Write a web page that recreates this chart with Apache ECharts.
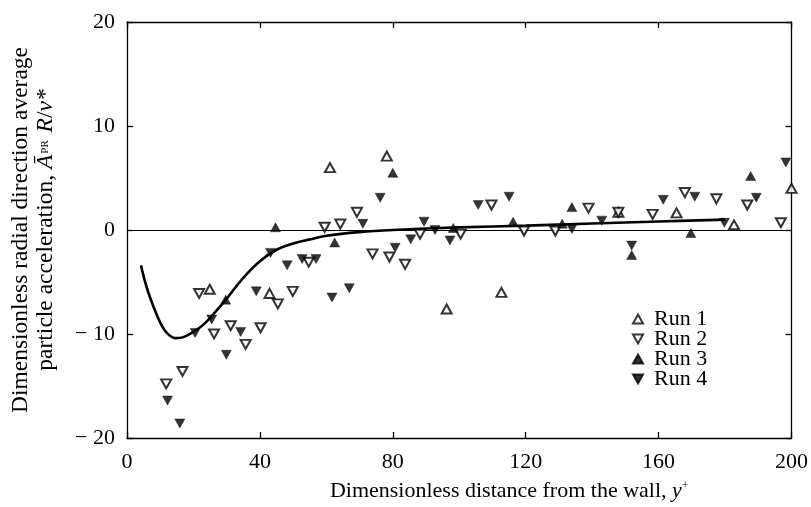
<!DOCTYPE html>
<html>
<head>
<meta charset="utf-8">
<script src="https://cdn.jsdelivr.net/npm/echarts@6/dist/echarts.min.js"></script>
<style>
html,body{margin:0;padding:0;background:#fff;}
#c{width:811px;height:507px;}
</style>
</head>
<body>
<div id="c"></div>
<script>
// ---- data ----
var xTicks = [0, 40, 80, 120, 160, 200];
var yTicks = [-20, -10, 0, 10, 20];
var runNames = ['Run 1', 'Run 2', 'Run 3', 'Run 4'];

var run1 = [[24.9,-5.7],[42.9,-6.1],[61.1,6.0],[78.2,7.1],[96.2,-7.6],[112.7,-6.0],[147.9,1.7],[165.4,1.65],[182.7,0.5],[200,4.0]];
var run2 = [[11.8,-14.8],[16.7,-13.6],[21.7,-6.1],[26.2,-10.0],[31.2,-9.2],[35.7,-11.0],[40.2,-9.4],[45.4,-7.1],[49.9,-5.9],[54.7,-3.1],[59.5,0.26],[64.2,0.57],[69.2,1.7],[73.9,-2.3],[79.0,-2.6],[83.7,-3.3],[88.2,-0.4],[100.4,-0.4],[109.7,2.4],[119.5,-0.1],[128.9,-0.1],[138.9,2.1],[147.9,1.7],[158.2,1.5],[167.9,3.6],[177.4,3.0],[186.7,2.4],[196.8,0.7]];
var run3 = [[29.7,-6.7],[44.7,0.26],[62.5,-1.2],[80.0,5.5],[98.2,0.2],[116.2,0.8],[131.0,0.6],[133.9,2.2],[151.9,-2.4],[169.7,-0.3],[187.7,5.2]];
var run4 = [[12.2,-16.4],[15.9,-18.6],[20.5,-9.9],[25.5,-8.6],[29.9,-12.0],[34.2,-9.8],[38.9,-5.9],[43.2,-2.2],[48.2,-3.4],[52.7,-2.8],[56.9,-2.8],[61.7,-6.5],[66.9,-5.6],[71.0,0.6],[76.2,3.1],[80.7,-1.7],[85.4,-0.9],[89.4,0.8],[92.7,0.0],[97.2,-1.0],[105.7,2.4],[115.0,3.2],[133.9,0.1],[142.9,0.9],[151.9,-1.5],[161.4,2.9],[170.9,3.2],[179.8,0.7],[189.4,3.1],[198.3,6.5]];
var curve = [[4.2,-3.4],[6,-5.6],[8,-7.4],[10,-8.9],[12,-9.9],[14.7,-10.4],[17,-10.3],[20,-9.8],[23,-9.1],[26,-8.1],[30,-6.6],[35,-4.6],[40,-3.0],[45,-1.9],[50,-1.3],[55,-0.9],[60,-0.55],[70,-0.2],[80,0.0],[100,0.25],[120,0.42],[140,0.62],[160,0.82],[180,1.0]];

var FONT = 'Liberation Serif';
var FS = 22;
var UP = 'path://M5,0 L10,9 L0,9 Z';
var DOWN = 'path://M0,0 L10,0 L5,9 Z';
var chart = echarts.init(document.getElementById('c'), null, {renderer:'canvas'});

function axisCommon(){
  return {
    axisLine:{show:true, onZero:false, lineStyle:{color:'#000', width:1.3}},
    axisTick:{show:true, inside:true, length:6, lineStyle:{color:'#000', width:1.3}},
    splitLine:{show:false}
  };
}

var xBottom = Object.assign(axisCommon(), {
  type:'value', position:'bottom', min:xTicks[0], max:xTicks[xTicks.length-1], interval:xTicks[1]-xTicks[0],
  axisLabel:{color:'#000', fontFamily:FONT, fontSize:FS, margin:13},
  name:'Dimensionless distance from the wall, {i|y}{sup|+}',
  nameLocation:'middle', nameGap:42,
  nameTextStyle:{color:'#000', fontFamily:FONT, fontSize:FS, padding:[0,0,0,100],
    rich:{i:{fontFamily:FONT, fontStyle:'italic', fontSize:FS, color:'#000'},
          sup:{fontFamily:FONT, fontSize:12, color:'#000', verticalAlign:'top', padding:[0,0,10,0]}}}
});
var xTop = Object.assign(axisCommon(), {
  type:'value', position:'top', min:xTicks[0], max:xTicks[xTicks.length-1], interval:xTicks[1]-xTicks[0],
  axisLabel:{show:false}
});
var yLeft = Object.assign(axisCommon(), {
  type:'value', position:'left', min:yTicks[0], max:yTicks[yTicks.length-1], interval:yTicks[1]-yTicks[0],
  axisLabel:{color:'#000', fontFamily:FONT, fontSize:FS, margin:12,
    formatter:function(v){ return v<0 ? '\u2212 ' + Math.abs(v) : String(v); }},
  name:'Dimensionless radial direction average\nparticle acceleration, {i|\u0100}{s|PR} {i|R}/{i|v}{i|*}',
  nameLocation:'middle', nameRotate:90, nameGap:69,
  nameTextStyle:{color:'#000', fontFamily:FONT, fontSize:23.5, lineHeight:25,
    rich:{i:{fontFamily:FONT, fontStyle:'italic', fontSize:23.5, color:'#000', lineHeight:25},
          s:{fontFamily:FONT, fontSize:11, color:'#000', lineHeight:25, padding:[0,2,0,1]}}}
});
var yRight = Object.assign(axisCommon(), {
  type:'value', position:'right', min:yTicks[0], max:yTicks[yTicks.length-1], interval:yTicks[1]-yTicks[0],
  axisLabel:{show:false}
});

function scatter(name, data, filled, down){
  return {
    name:name, type:'scatter', data:data, xAxisIndex:0, yAxisIndex:0,
    symbol: down ? DOWN : UP, symbolSize:[10,9],
    itemStyle: filled ? {color:'#000', borderColor:'#000', borderWidth:0.5}
                      : {color:'#fff', borderColor:'#000', borderWidth:2},
    z:5
  };
}

chart.setOption({
  backgroundColor:'#fff',
  animation:false,
  grid:{left:127, right:17, top:22, bottom:67},
  xAxis:[xBottom, xTop],
  yAxis:[yLeft, yRight],
  legend:{
    orient:'vertical', left:627, top:303, itemWidth:10, itemHeight:9, itemGap:-2,
    data:runNames,
    textStyle:{color:'#000', fontFamily:FONT, fontSize:FS, padding:[0,0,0,6]}
  },
  series:[
    {
      name:'fit', type:'line', data:curve, showSymbol:false, smooth:0.4,
      lineStyle:{color:'#000', width:2.6}, z:3,
      markLine:{silent:true, symbol:['none','none'], label:{show:false},
        lineStyle:{color:'#000', width:1.2, type:'solid'}, data:[{yAxis:0}]}
    },
    scatter(runNames[0], run1, false, false),
    scatter(runNames[1], run2, false, true),
    scatter(runNames[2], run3, true, false),
    scatter(runNames[3], run4, true, true)
  ]
});
</script>
</body>
</html>
